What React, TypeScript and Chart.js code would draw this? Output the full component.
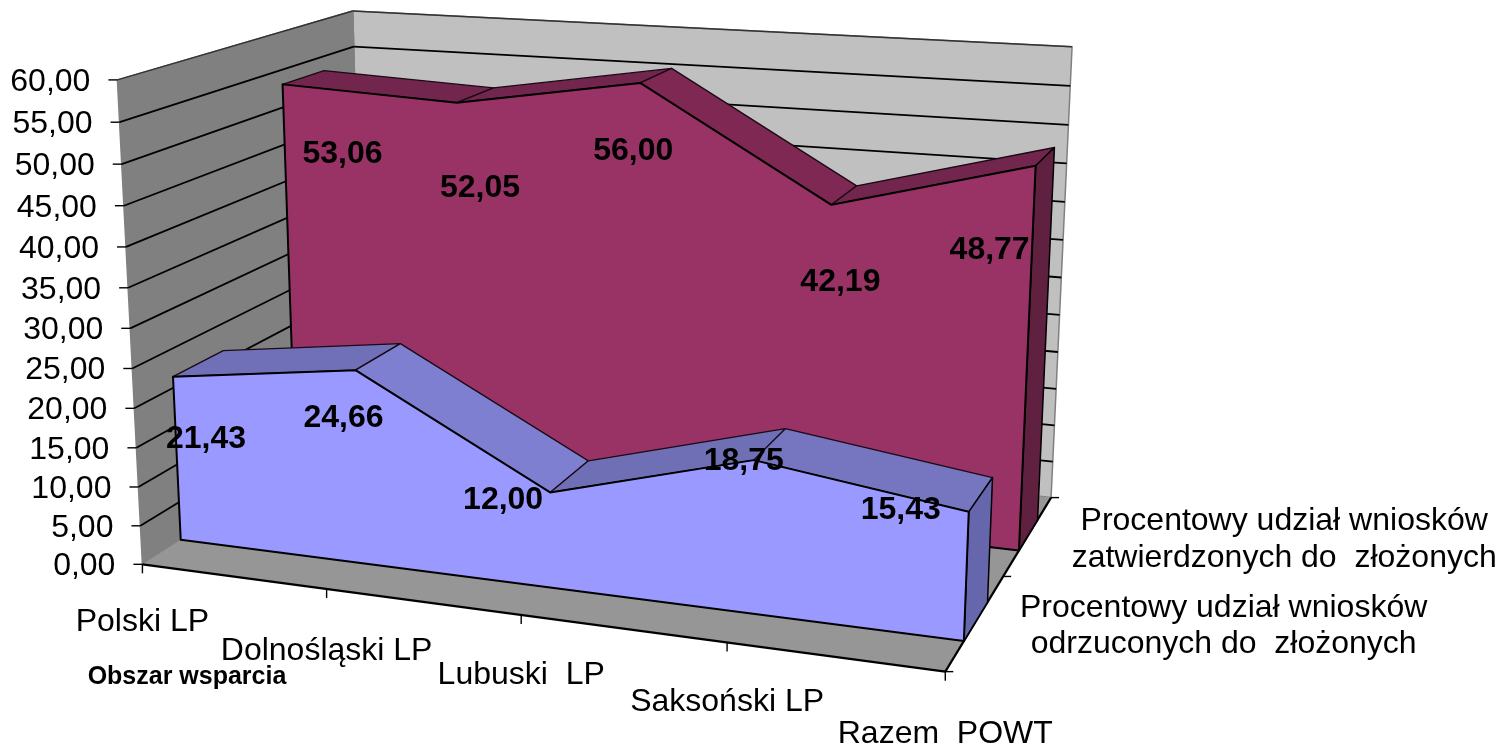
import React, { useEffect, useRef } from "react";
import { Chart, registerables } from "chart.js";

Chart.register(...registerables);

// ---- data ----
const categories = ["Polski LP", "Dolnośląski LP", "Lubuski  LP", "Saksoński LP", "Razem  POWT"];
const rejectedLabel = ["Procentowy udział wniosków", "odrzuconych do  złożonych"];
const approvedLabel = ["Procentowy udział wniosków", "zatwierdzonych do  złożonych"];
const rejected = [21.43, 24.66, 12.0, 18.75, 15.43];
const approved = [53.06, 52.05, 56.0, 42.19, 48.77];
const yTicks = [0, 5, 10, 15, 20, 25, 30, 35, 40, 45, 50, 55, 60];
const categoryAxisTitle = "Obszar wsparcia";

// ---- camera: plot frame anchors (u, v, w) -> canvas px, used to fit a projective camera ----
const FRAME_ANCHORS: number[][] = [
  [0, 0, 0, 143, 564], [0.25, 0, 0, 327, 590], [0.5, 0, 0, 521, 616], [0.75, 0, 0, 726, 643], [1, 0, 0, 945, 671],
  [1, 0, 0.5, 1004, 576], [1, 0, 1, 1051, 497],
  [0, 5 / 60, 0, 140, 526], [0, 10 / 60, 0, 138, 487], [0, 15 / 60, 0, 137, 448], [0, 20 / 60, 0, 135, 408],
  [0, 25 / 60, 0, 132, 368], [0, 30 / 60, 0, 130, 328], [0, 35 / 60, 0, 128, 287], [0, 40 / 60, 0, 126, 247],
  [0, 45 / 60, 0, 124, 206], [0, 50 / 60, 0, 122, 164], [0, 55 / 60, 0, 120, 122], [0, 1, 0, 117, 80],
  [0, 1, 1, 353, 11], [0, 55 / 60, 1, 353, 47], [1, 1, 1, 1073, 47], [1, 55 / 60, 1, 1070, 86], [1, 50 / 60, 1, 1068, 125],
];

function fitCamera(anchors: number[][]): number[] {
  const n = 11;
  const A = Array.from({ length: n }, () => new Array(n + 1).fill(0));
  const add = (r: number[], b: number) => {
    for (let i = 0; i < n; i++) {
      for (let j = 0; j < n; j++) A[i][j] += r[i] * r[j];
      A[i][n] += r[i] * b;
    }
  };
  for (const [u, v, w, x, y] of anchors) {
    add([u, v, w, 1, 0, 0, 0, 0, -x * u, -x * v, -x * w], x);
    add([0, 0, 0, 0, u, v, w, 1, -y * u, -y * v, -y * w], y);
  }
  for (let c = 0; c < n; c++) {
    let p = c;
    for (let r = c + 1; r < n; r++) if (Math.abs(A[r][c]) > Math.abs(A[p][c])) p = r;
    [A[c], A[p]] = [A[p], A[c]];
    for (let r = 0; r < n; r++) {
      if (r === c) continue;
      const f = A[r][c] / A[c][c];
      for (let k = c; k <= n; k++) A[r][k] -= f * A[c][k];
    }
  }
  return A.map((row, i) => row[n] / row[i]);
}
const CAM = fitCamera(FRAME_ANCHORS);
const cam = (u: number, v: number, w: number): [number, number] => {
  const d = CAM[8] * u + CAM[9] * v + CAM[10] * w + 1;
  return [
    (CAM[0] * u + CAM[1] * v + CAM[2] * w + CAM[3]) / d,
    (CAM[4] * u + CAM[5] * v + CAM[6] * w + CAM[7]) / d,
  ];
};

// ---- styles ----
const SERIES_STYLES = [
  {
    depth: [0.15, 0.355],
    front: "#9999ff",
    side: "#6666ad",
    tops: ["#7070b8", "#7f7fd2", "#6f6fb6", "#7575c0"],
    labelOffset: [[33, 61], [-12, 46], [-47, 6], [-10, -1], [-68, -4]],
  },
  {
    depth: [0.655, 0.85],
    front: "#993366",
    side: "#602040",
    tops: ["#72264d", "#72264d", "#7f2853", "#72264d"],
    labelOffset: [[60, 68], [23, 83], [-7, 66], [9, 75], [-46, 83]],
  },
];
const XLABEL_DY = [56, 60, 58, 58, 61];
const FONT_FAMILY = '"Liberation Sans", Arial, sans-serif';
const TEXT_DY = 2;

const scene = {
  id: "scene3d",
  beforeDatasetsDraw(chart: any) {
    const { ctx, scales } = chart;
    const X = scales.x;
    const Y = scales.y;
    const P = (i: number, value: number, w: number) =>
      cam((X.getPixelForValue(i) - X.left) / X.width, (Y.bottom - Y.getPixelForValue(value)) / Y.height, w);
    const last = categories.length - 1;
    const vMax = yTicks[yTicks.length - 1];

    const poly = (pts: number[][], fill: string | null, stroke: string | null, lw = 1.5) => {
      ctx.beginPath();
      pts.forEach((p, i) => (i ? ctx.lineTo(p[0], p[1]) : ctx.moveTo(p[0], p[1])));
      ctx.closePath();
      if (fill) { ctx.fillStyle = fill; ctx.fill(); }
      if (stroke) { ctx.strokeStyle = stroke; ctx.lineWidth = lw; ctx.lineJoin = "round"; ctx.stroke(); }
    };
    const line = (a: number[], b: number[], color = "#000", lw = 1.8) => {
      ctx.beginPath(); ctx.moveTo(a[0], a[1]); ctx.lineTo(b[0], b[1]);
      ctx.strokeStyle = color; ctx.lineWidth = lw; ctx.stroke();
    };
    const text = (s: string, x: number, y: number, font: string, align = "center") => {
      ctx.font = font;
      ctx.fillStyle = "#000";
      ctx.textAlign = align;
      ctx.textBaseline = "middle";
      ctx.fillText(s, x, y + TEXT_DY);
    };

    // walls and floor
    poly([P(0, 0, 1), P(last, 0, 1), P(last, vMax, 1), P(0, vMax, 1)], "#c0c0c0", "#808080", 1.5);
    poly([P(0, 0, 0), P(0, 0, 1), P(0, vMax, 1), P(0, vMax, 0)], "#808080", "#808080", 1.5);
    poly([P(0, 0, 0), P(last, 0, 0), P(last, 0, 1), P(0, 0, 1)], "#969696", null);
    line(P(0, vMax, 0), P(0, vMax, 1), "#333", 1.4);
    line(P(0, vMax, 1), P(last, vMax, 1), "#333", 1.4);

    // gridlines and value ticks
    yTicks.forEach((t) => {
      if (t > 0 && t < vMax) {
        line(P(0, t, 0), P(0, t, 1));
        line(P(0, t, 1), P(last, t, 1));
      }
      const a = P(0, t, 0);
      line([a[0] - 9, a[1]], a, "#000", 1.4);
      text(t.toFixed(2).replace(".", ","), a[0] - 27, a[1], `32px ${FONT_FAMILY}`, "right");
    });

    // floor front edges, ticks and labels
    line(P(0, 0, 0), P(last, 0, 0), "#000", 2.2);
    line(P(last, 0, 0), P(last, 0, 1), "#000", 2.2);
    categories.forEach((c, i) => {
      const a = P(i, 0, 0);
      line(a, [a[0], a[1] + 9], "#000", 1.4);
      text(c, a[0], a[1] + XLABEL_DY[i], `32px ${FONT_FAMILY}`);
    });
    [0, 0.5, 1].forEach((w) => {
      const a = cam(1, 0, w);
      line(a, [a[0] + 8, a[1]], "#000", 1.4);
    });
    text(categoryAxisTitle, 187, 675, `bold 25px ${FONT_FAMILY}`);

    // series: back one first
    [1, 0].forEach((s) => {
      const st = SERIES_STYLES[s];
      const values = chart.data.datasets[s].data as number[];
      const [wf, wb] = st.depth;
      for (let i = 0; i < last; i++) {
        poly([P(i, values[i], wf), P(i + 1, values[i + 1], wf), P(i + 1, values[i + 1], wb), P(i, values[i], wb)], st.tops[i], "#1a0a14", 1.3);
      }
      poly([P(last, 0, wf), P(last, 0, wb), P(last, values[last], wb), P(last, values[last], wf)], st.side, "#000", 1.5);
      const frontPts = values.map((v, i) => P(i, v, wf));
      poly([P(0, 0, wf), ...frontPts, P(last, 0, wf)], st.front, "#000", 2);
    });

    // data labels
    SERIES_STYLES.forEach((st, s) => {
      const values = chart.data.datasets[s].data as number[];
      values.forEach((v, i) => {
        const a = P(i, v, st.depth[0]);
        const off = st.labelOffset[i];
        text(v.toFixed(2).replace(".", ","), a[0] + off[0], a[1] + off[1], `bold 32px ${FONT_FAMILY}`);
      });
    });

    // depth-axis labels
    const a1 = cam(1, 0, 0.75);
    approvedLabel.forEach((l, i) => text(l, a1[0] + 256, a1[1] - 16 + i * 37, `32px ${FONT_FAMILY}`));
    const a0 = cam(1, 0, 0.25);
    rejectedLabel.forEach((l, i) => text(l, a0[0] + 248, a0[1] - 16 + i * 36, `32px ${FONT_FAMILY}`));
  },
};

export default function App() {
  const ref = useRef<HTMLCanvasElement | null>(null);
  useEffect(() => {
    const chart = new Chart(ref.current as HTMLCanvasElement, {
      type: "line",
      data: {
        labels: categories,
        datasets: [
          { label: rejectedLabel.join(" "), data: rejected, showLine: false, pointRadius: 0 },
          { label: approvedLabel.join(" "), data: approved, showLine: false, pointRadius: 0 },
        ],
      },
      options: {
        responsive: false,
        animation: false,
        plugins: { legend: { display: false }, tooltip: { enabled: false } },
        scales: {
          x: { type: "category", display: false },
          y: { type: "linear", min: 0, max: 60, display: false },
        },
      },
      plugins: [scene],
    } as any);
    return () => chart.destroy();
  }, []);
  return (
    <canvas
      ref={ref}
      width={1503}
      height={744}
      style={{ position: "absolute", left: 0, top: 0, width: 1503, height: 744, background: "#fff" }}
    />
  );
}
